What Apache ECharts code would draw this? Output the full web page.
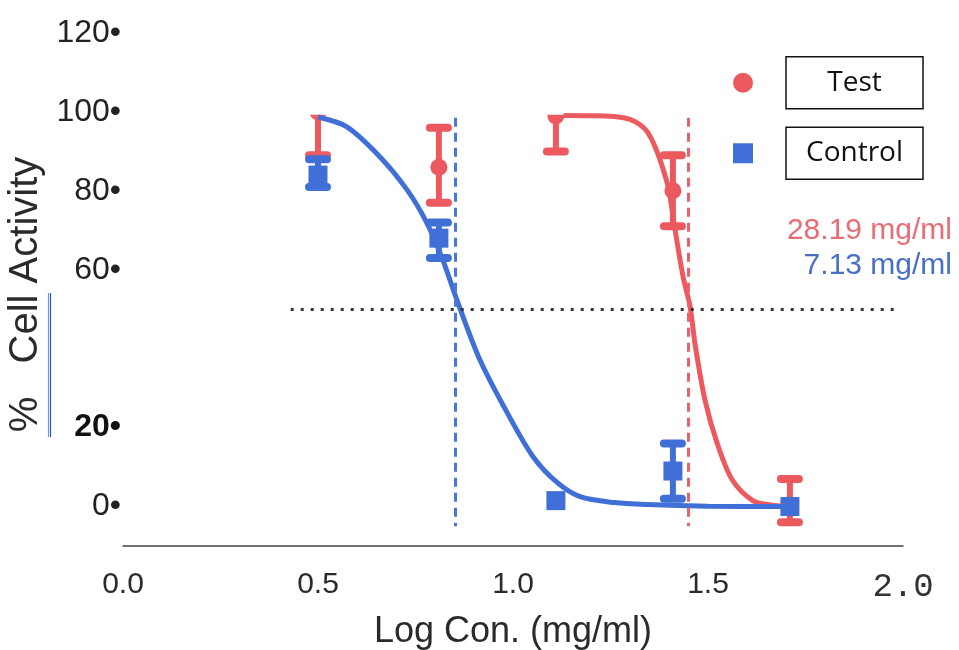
<!DOCTYPE html>
<html><head><meta charset="utf-8">
<script src="https://cdn.jsdelivr.net/npm/echarts@6/dist/echarts.min.js"></script>
<style>html,body{margin:0;padding:0;background:#fff}#c{width:959px;height:650px}</style>
</head><body><div id="c"></div>
<script>
// ---- data ----
const logConc      = [0.5, 0.81, 1.11, 1.41, 1.71];
const testMean     = [100, 86, 99, 80, 0];
const testLow      = [89, 77, 90, 71, -4];
const testHigh     = [104, 96, 104, 89, 7];
const controlMean  = [84, 68, 1.5, 9, 0];
const controlLow   = [81, 63, 1.5, 2, 0];
const controlHigh  = [88, 72, 1.5, 16, 0];

const testCurveX    = [1.13, 1.22, 1.27, 1.30, 1.325, 1.344, 1.365, 1.385, 1.40, 1.415, 1.436, 1.454, 1.467, 1.492, 1.523, 1.562, 1.615, 1.66, 1.71];
const testCurveY    = [99.1, 99.0, 98.7, 98.1, 96.8, 95.0, 91.0, 85.5, 80.0, 70.5, 58.3, 50.7, 41.0, 27.1, 16.2, 6.8, 1.5, 0.4, 0];
const controlCurveX = [0.5, 0.574, 0.659, 0.728, 0.779, 0.82, 0.856, 0.915, 0.985, 1.051, 1.113, 1.172, 1.26, 1.344, 1.5, 1.71];
const controlCurveY = [98.7, 96.2, 88.6, 80.3, 71.9, 62.5, 52.4, 37.2, 23.8, 12.7, 6.1, 2.5, 1.0, 0.5, 0.1, 0];

const ic50Values   = [28.19, 7.13];     // Test, Control (mg/ml)
const halfActivity = 50;
const yTicks       = [0, 20, 60, 80, 100, 120];
const xTicks       = [0, 0.5, 1.0, 1.5, 2.0];
const seriesNames  = ['Test', 'Control'];

// ---- styling ----
const RED = '#ec5a5f', BLUE = '#416fd8';
const CLIP_TOP = 99.3;

const zip = (a, b) => a.map((v, i) => [v, b[i]]);
const pts = (m, lo, hi) => logConc.map((x, i) => [x, m[i], lo[i], hi[i]]);

function errRender(shape) {
  return function (params, api) {
    const x = api.value(0), m = api.value(1), lo = api.value(2), hi = api.value(3);
    const pm = api.coord([x, m]), pl = api.coord([x, lo]), ph = api.coord([x, hi]);
    const color = api.visual('color');
    const ch = [];
    if (hi !== lo) {
      ch.push({type: 'line', shape: {x1: pl[0], y1: pl[1], x2: ph[0], y2: ph[1]},
        style: {stroke: color, lineWidth: 6}});
      [pl, ph].forEach(p => ch.push({type: 'line',
        shape: {x1: p[0] - 9, y1: p[1], x2: p[0] + 9, y2: p[1]},
        style: {stroke: color, lineWidth: 8, lineCap: 'round'}}));
    }
    if (shape === 'circle') {
      ch.push({type: 'circle', shape: {cx: pm[0], cy: pm[1], r: 8.5}, style: {fill: color}});
    } else {
      ch.push({type: 'rect', shape: {x: pm[0] - 9.5, y: pm[1] - 9.5, width: 19, height: 19}, style: {fill: color}});
    }
    return {type: 'group', children: ch};
  };
}

const chart = echarts.init(document.getElementById('c'));
const lab = {fontFamily: '"Liberation Sans", Arial, sans-serif', color: '#222'};

chart.setOption({
  animation: false,
  backgroundColor: '#fff',
  grid: {left: 123, right: 56, top: 33, bottom: 104, containLabel: false, outerBoundsMode: 'none'},
  xAxis: {
    type: 'value', min: xTicks[0], max: xTicks[xTicks.length - 1], interval: 0.5,
    axisLine: {show: true, onZero: false, lineStyle: {color: '#444', width: 1.5}},
    axisTick: {show: false}, splitLine: {show: false},
    axisLabel: {
      margin: 24, fontSize: 30, ...lab, color: '#2a2a2a',
      formatter: v => v === 2 ? '{m|' + v.toFixed(1) + '}' : v.toFixed(1),
      rich: {m: {fontFamily: '"Liberation Mono", "DejaVu Sans Mono", monospace', fontSize: 34, color: '#333'}}
    },
    name: 'Log Con. (mg/ml)', nameLocation: 'middle', nameGap: 68,
    nameTextStyle: {fontSize: 36, ...lab, color: '#2a2a2a'}
  },
  yAxis: {
    type: 'value', min: -10, max: 120,
    axisLine: {show: false}, axisTick: {show: false}, splitLine: {show: false},
    axisLabel: {
      customValues: yTicks, margin: 2, fontSize: 32, ...lab,
      formatter: v => v === 20 ? '{b|' + v + '•}' : v + '•',
      rich: {b: {fontWeight: 'bold', fontSize: 32, ...lab, color: '#111'}}
    },
    name: '%   Cell Activity', nameLocation: 'middle', nameGap: 76, nameRotate: 90,
    nameTextStyle: {fontSize: 40, ...lab, color: '#2a2a2a', padding: [0, 10, 0, 0]}
  },
  legend: {
    orient: 'vertical', left: 728, top: 51, itemWidth: 20, itemHeight: 20, itemGap: 17,
    selectedMode: false,
    data: [{name: seriesNames[0], icon: 'circle'}, {name: seriesNames[1], icon: 'rect'}],
    formatter: n => '{g| }{b|' + n + '}',
    textStyle: {
      rich: {
        g: {width: 28},
        b: {width: 137, height: 52, align: 'center', borderColor: '#111', borderWidth: 1.5,
            fontSize: 28, fontFamily: '"Open Sans", sans-serif', color: '#111'}
      }
    }
  },
  graphic: [
    {type: 'text', right: 7, top: 216, style: {text: ic50Values[0].toFixed(2) + ' mg/ml', fill: '#e96c76', font: '30px "Liberation Sans", Arial'}},
    {type: 'text', right: 7, top: 251, style: {text: ic50Values[1].toFixed(2) + ' mg/ml', fill: '#4a6fcb', font: '30px "Liberation Sans", Arial'}},
    {type: 'line', shape: {x1: 48.5, y1: 293, x2: 48.5, y2: 437}, style: {stroke: '#6d97e6', lineWidth: 1.2}},
    {type: 'line', shape: {x1: 50.5, y1: 293, x2: 50.5, y2: 437}, style: {stroke: '#3556b0', lineWidth: 1.2}}
  ],
  series: [
    {
      name: seriesNames[0], type: 'custom', z: 2, itemStyle: {color: RED},
      renderItem: errRender('circle'), encode: {x: 0, y: 1},
      data: pts(testMean, testLow, testHigh)
    },
    {
      name: seriesNames[1], type: 'custom', z: 2, itemStyle: {color: BLUE},
      renderItem: errRender('rect'), encode: {x: 0, y: 1},
      data: pts(controlMean, controlLow, controlHigh)
    },
    {
      type: 'custom', z: 3, silent: true,
      renderItem: (p, api) => {
        const a = api.coord([xTicks[0], 120]), b = api.coord([xTicks[xTicks.length - 1], CLIP_TOP]);
        return {type: 'rect', shape: {x: a[0], y: a[1], width: b[0] - a[0], height: b[1] - a[1]}, style: {fill: '#fff'}};
      },
      data: [[0, 0]]
    },
    {
      type: 'line', z: 4, showSymbol: false, smooth: 0.3, silent: true,
      lineStyle: {color: RED, width: 5}, itemStyle: {color: RED},
      data: zip(testCurveX, testCurveY),
      markLine: {
        silent: true, symbol: 'none', label: {show: false},
        lineStyle: {color: '#ee5f6c', width: 3, type: [9, 6]},
        data: [[{coord: [Math.log10(ic50Values[0]), 98.5]}, {coord: [Math.log10(ic50Values[0]), -5]}]]
      }
    },
    {
      type: 'line', z: 4, showSymbol: false, smooth: 0.3, silent: true,
      lineStyle: {color: BLUE, width: 5}, itemStyle: {color: BLUE},
      data: zip(controlCurveX, controlCurveY),
      markLine: {
        silent: true, symbol: 'none', label: {show: false},
        data: [
          [{coord: [Math.log10(ic50Values[1]), 98.5], lineStyle: {color: '#4a78d8', width: 3, type: [9, 6]}},
           {coord: [Math.log10(ic50Values[1]), -5]}],
          [{coord: [0.43, halfActivity], lineStyle: {color: '#333', width: 3, type: [3, 7]}},
           {coord: [1.99, halfActivity]}]
        ]
      }
    }
  ]
});
</script>
</body></html>
